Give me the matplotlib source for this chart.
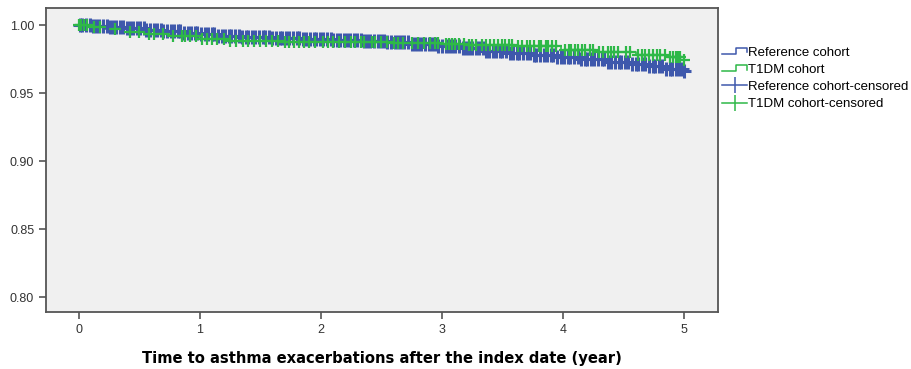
import numpy as np
import matplotlib
matplotlib.use('Agg')
import matplotlib.pyplot as plt
from matplotlib.lines import Line2D
from matplotlib.legend_handler import HandlerBase

# step points of the two Kaplan-Meier curves (time in years, survival after step)
ref_t = [0, 0.1, 0.25, 0.4, 0.55, 0.7, 0.85, 1.0, 1.15, 1.35, 1.6, 1.85, 2.1, 2.35,
         2.55, 2.75, 2.95, 3.15, 3.35, 3.55, 3.75, 3.95, 4.15, 4.35, 4.55, 4.7, 4.85, 5.0]
ref_s = [1.0, 0.9992, 0.9983, 0.9975, 0.9965, 0.9955, 0.9943, 0.9932, 0.9922, 0.9912,
         0.9902, 0.9895, 0.9888, 0.9882, 0.9872, 0.9860, 0.9846, 0.9828, 0.9812, 0.9795,
         0.9780, 0.9762, 0.9748, 0.9730, 0.9712, 0.9698, 0.9680, 0.9665]

t1dm_t = [0, 0.08, 0.2, 0.35, 0.55, 0.75, 1.0, 1.25, 1.7, 2.2, 2.6, 3.0, 3.2, 3.6,
          3.98, 4.3, 4.6, 4.85, 5.0]
t1dm_s = [1.0, 0.9985, 0.997, 0.995, 0.9935, 0.992, 0.990, 0.9885, 0.9878, 0.9872,
          0.9866, 0.986, 0.985, 0.9842, 0.9815, 0.980, 0.978, 0.9765, 0.974]

# censored times
ref_cens = [
    0.01, 0.03, 0.06, 0.09, 0.12, 0.14, 0.17, 0.2, 0.23, 0.26, 0.28, 0.31, 0.34, 0.37,
    0.4, 0.42, 0.45, 0.48, 0.51, 0.54, 0.56, 0.59, 0.62, 0.65, 0.68, 0.7, 0.73, 0.76,
    0.79, 0.82, 0.84, 0.87, 0.9, 0.93, 0.96, 0.98,
    1.01, 1.04, 1.07, 1.1, 1.12, 1.15, 1.18, 1.21, 1.24, 1.26, 1.29, 1.32, 1.35, 1.38,
    1.4, 1.43, 1.46, 1.49, 1.52, 1.54, 1.57, 1.6, 1.63, 1.66, 1.68, 1.71, 1.74, 1.77,
    1.8, 1.82, 1.85, 1.88, 1.91, 1.94, 1.96, 1.99,
    2.02, 2.05, 2.08, 2.1, 2.13, 2.16, 2.19, 2.22, 2.24, 2.27, 2.3, 2.33, 2.36, 2.38,
    2.41, 2.44, 2.47, 2.5, 2.52, 2.55, 2.58, 2.61, 2.64, 2.66, 2.69, 2.72, 2.75, 2.78,
    2.8, 2.83, 2.86, 2.89, 2.92, 2.94, 2.97,
    3.0, 3.03, 3.06, 3.08, 3.11, 3.14, 3.17, 3.2, 3.22, 3.25, 3.28, 3.31, 3.34, 3.36,
    3.39, 3.42, 3.45, 3.48, 3.5, 3.53, 3.56, 3.59, 3.62, 3.64, 3.67, 3.7, 3.73, 3.76,
    3.78, 3.81, 3.84, 3.87, 3.9, 3.92, 3.95, 3.98,
    4.01, 4.04, 4.06, 4.09, 4.12, 4.15, 4.18, 4.2, 4.23, 4.26, 4.29, 4.32, 4.34, 4.37,
    4.4, 4.43, 4.46, 4.48, 4.51, 4.54, 4.57, 4.6, 4.62, 4.65, 4.68, 4.71, 4.74, 4.76,
    4.79, 4.82, 4.85, 4.88, 4.9, 4.93, 4.96, 4.98, 5.0]
t1dm_cens = [
    0.0, 0.02, 0.04, 0.07, 0.13, 0.18, 0.3, 0.42, 0.5, 0.58, 0.62, 0.7, 0.78, 0.85,
    0.88, 0.92, 0.97, 1.02, 1.06, 1.1, 1.14, 1.2, 1.25, 1.3, 1.36, 1.4, 1.45, 1.5,
    1.55, 1.6, 1.65, 1.7, 1.74, 1.78, 1.82, 1.86, 1.9, 1.95, 2.02, 2.06, 2.1, 2.15,
    2.2, 2.25, 2.28, 2.33, 2.36, 2.42, 2.45, 2.5, 2.55, 2.6, 2.64, 2.68, 2.75, 2.8,
    2.85, 2.9, 2.94, 2.97, 3.03, 3.06, 3.08, 3.11, 3.14, 3.18, 3.22, 3.25, 3.28,
    3.33, 3.36, 3.4, 3.43, 3.46, 3.5, 3.52, 3.55, 3.58, 3.63, 3.66, 3.7, 3.73, 3.76,
    3.8, 3.82, 3.86, 3.88, 3.91, 3.94, 4.02, 4.05, 4.07, 4.1, 4.12, 4.16, 4.18, 4.22,
    4.25, 4.3, 4.33, 4.37, 4.4, 4.42, 4.45, 4.52, 4.55, 4.62, 4.65, 4.68, 4.71, 4.74,
    4.78, 4.8, 4.84, 4.88, 4.91, 4.93, 4.95, 4.97, 5.0]

blue = '#3E58AC'
green = '#2EB848'


def surv_at(times, steps_t, steps_s):
    idx = np.searchsorted(steps_t, times, side='right') - 1
    return np.array(steps_s)[idx]


class StepHandler(HandlerBase):
    def create_artists(self, legend, orig, xd, yd, w, h, fontsize, trans):
        xs = [xd, xd + w * 0.55, xd + w * 0.55, xd + w, xd + w]
        ys = [yd + h * 0.2, yd + h * 0.2, yd + h * 0.8, yd + h * 0.8, yd + h * 0.35]
        ln = Line2D(xs, ys, color=orig.get_color(), lw=1.1, transform=trans)
        return [ln]


fig = plt.figure(figsize=(9.11, 3.69), dpi=100)
ax = fig.add_axes([46 / 911, 1 - 312 / 369, 672 / 911, 304 / 369])
ax.set_facecolor('#F0F0F0')

l1, = ax.step(ref_t, ref_s, where='post', color=blue, lw=1.2)
l2, = ax.step(t1dm_t, t1dm_s, where='post', color=green, lw=1.2)
ax.plot(ref_cens, surv_at(ref_cens, ref_t, ref_s), ls='none', marker='+',
        color=blue, ms=9.5, mew=2.2)
ax.plot(t1dm_cens, surv_at(t1dm_cens, t1dm_t, t1dm_s), ls='none', marker='+',
        color=green, ms=9, mew=1.6)

ax.set_xlim(-0.27, 5.28)
ax.set_ylim(0.789, 1.0125)
ax.set_xticks([0, 1, 2, 3, 4, 5])
ax.set_yticks([0.80, 0.85, 0.90, 0.95, 1.00])
ax.set_yticklabels(['0.80', '0.85', '0.90', '0.95', '1.00'])
for s in ax.spines.values():
    s.set_color('#555555')
    s.set_linewidth(1.3)
ax.tick_params(direction='out', length=5, width=1.2, color='#555555',
               labelsize=9, labelcolor='#333333')
for lab in ax.get_xticklabels() + ax.get_yticklabels():
    lab.set_family('Liberation Sans')

ax.set_xlabel('Time to asthma exacerbations after the index date (year)',
              fontsize=10.6, fontweight='bold', family='DejaVu Sans', labelpad=11)

# legend handles for censored marks: line with a tick in the middle
h3 = Line2D([], [], color=blue, lw=1.1, marker='|', ms=11, mew=1.1)
h4 = Line2D([], [], color=green, lw=1.1, marker='|', ms=11, mew=1.1)
fig.legend([l1, l2, h3, h4],
           ['Reference cohort', 'T1DM cohort', 'Reference cohort-censored',
            'T1DM cohort-censored'],
           handler_map={l1: StepHandler(), l2: StepHandler()},
           loc='upper left', bbox_to_anchor=(717 / 911, 1 - 41 / 369),
           frameon=False, prop={'family': 'Liberation Sans', 'size': 9.5},
           handlelength=1.9, handletextpad=0.05, labelspacing=0.38,
           borderaxespad=0, numpoints=1)

fig.savefig('out.png', dpi=100)
